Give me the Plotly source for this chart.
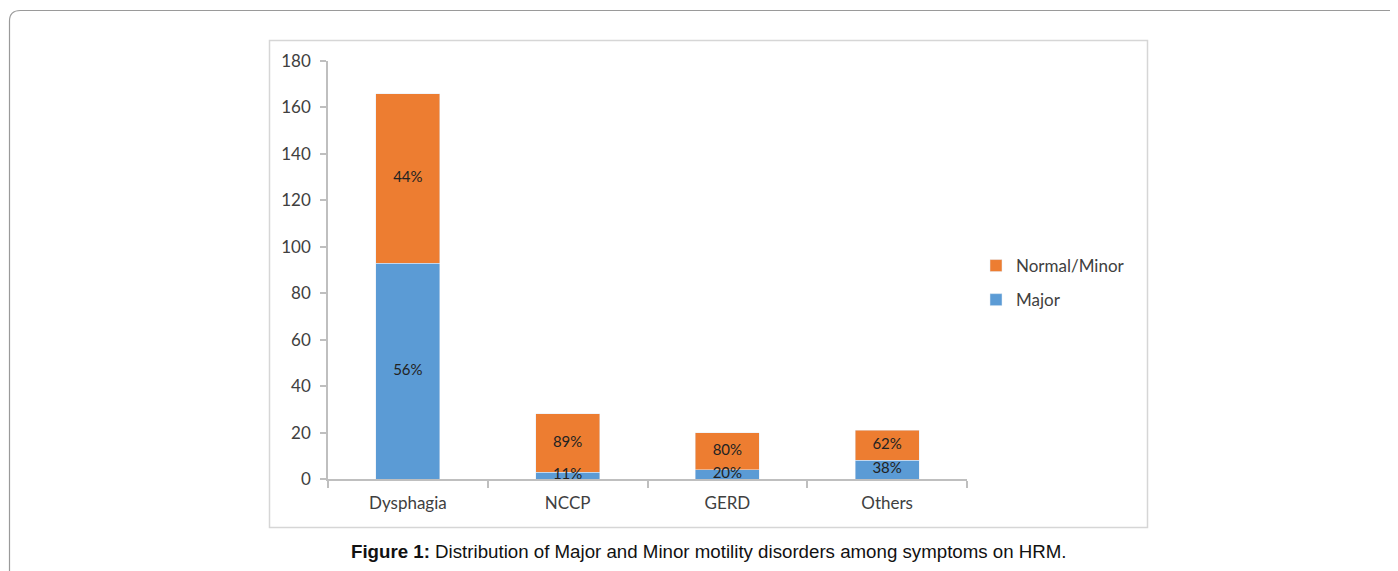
import plotly.graph_objects as go

categories = ["Dysphagia", "NCCP", "GERD", "Others"]
major = [93, 3, 4, 8]
normal_minor = [73, 25, 16, 13]
major_pct = ["56%", "11%", "20%", "38%"]
minor_pct = ["44%", "89%", "80%", "62%"]
y_ticks = [0, 20, 40, 60, 80, 100, 120, 140, 160, 180]

OFF = 8  # page body margin
W, H = 1398 - OFF, 571 - OFF
L, R, T, B = 328 - OFF, 967 - OFF, 61 - OFF, 479 - OFF


def px(x):
    return (x - OFF - L) / (R - L)


def py(y):
    return (B - (y - OFF)) / (B - T)


font_chart = "Lato, Open Sans, sans-serif"
txt = "#404040"
lbl_font = dict(family=font_chart, size=15, color="#222222")

fig = go.Figure()
fig.add_trace(go.Bar(
    x=categories, y=major, name="Major", marker_color="#5b9bd5",
    legendgroup="a", legendrank=2, hoverinfo="skip",
))
fig.add_trace(go.Bar(
    x=categories, y=normal_minor, name="Normal/Minor", marker_color="#ed7d31",
    legendgroup="b", legendrank=1, hoverinfo="skip",
))
# data labels centred in each stacked segment, drawn on top of all bars
fig.add_trace(go.Scatter(
    x=categories, y=[m / 2 for m in major], text=major_pct, mode="text",
    textposition="middle center", textfont=lbl_font, showlegend=False,
    cliponaxis=False, hoverinfo="skip",
))
fig.add_trace(go.Scatter(
    x=categories, y=[m + n / 2 for m, n in zip(major, normal_minor)], text=minor_pct,
    mode="text", textposition="middle center", textfont=lbl_font, showlegend=False,
    cliponaxis=False, hoverinfo="skip",
))

shapes = [
    dict(type="rect", xref="paper", yref="paper",
         x0=px(269.5), x1=px(1147.5), y0=py(527.5), y1=py(40.5),
         line=dict(color="#d6d6d6", width=1.5), fillcolor="rgba(0,0,0,0)", layer="below"),
    dict(type="path", xref="paper", yref="paper",
         path=(f"M{px(9.5)},{py(590)} L{px(9.5)},{py(21)} "
               f"Q{px(9.5)},{py(10.5)} {px(20.5)},{py(10.5)} L{px(1420)},{py(10.5)}"),
         line=dict(color="#9a9a9a", width=1.2)),
]

fig.update_layout(
    width=W, height=H,
    margin=dict(l=L, r=W - R, t=T, b=H - B, pad=0),
    paper_bgcolor="white", plot_bgcolor="white",
    barmode="stack", bargap=0.6,
    showlegend=True,
    legend=dict(x=px(976), y=py(283), xanchor="left", yanchor="middle",
                traceorder="grouped", tracegroupgap=9,
                font=dict(family=font_chart, size=17, color=txt),
                bgcolor="rgba(0,0,0,0)"),
    font=dict(family=font_chart, size=17, color=txt),
    shapes=shapes,
    annotations=[dict(
        xref="paper", yref="paper", x=px(709), y=py(551),
        xanchor="center", yanchor="middle", showarrow=False,
        text="<b>Figure 1:</b> Distribution of Major and Minor motility disorders among symptoms on HRM.",
        font=dict(family="Liberation Sans, Arial, sans-serif", size=18.7, color="#111111"),
    )],
)
fig.update_xaxes(
    showline=True, linecolor="#bfbfbf", linewidth=1.5,
    ticks="outside", tickson="boundaries", ticklen=7, tickcolor="#bfbfbf", tickwidth=1.5,
    showgrid=False, tickfont=dict(family=font_chart, size=17, color=txt),
    ticklabelstandoff=8,
)
fig.update_yaxes(
    range=[0, 180], tickvals=y_ticks, showline=True, linecolor="#bfbfbf", linewidth=1.5,
    ticks="outside", ticklen=6, tickcolor="#bfbfbf", tickwidth=1.5,
    showgrid=False, zeroline=False, tickfont=dict(family=font_chart, size=17, color=txt),
    ticklabelstandoff=6,
)

fig.write_html("out.html")
